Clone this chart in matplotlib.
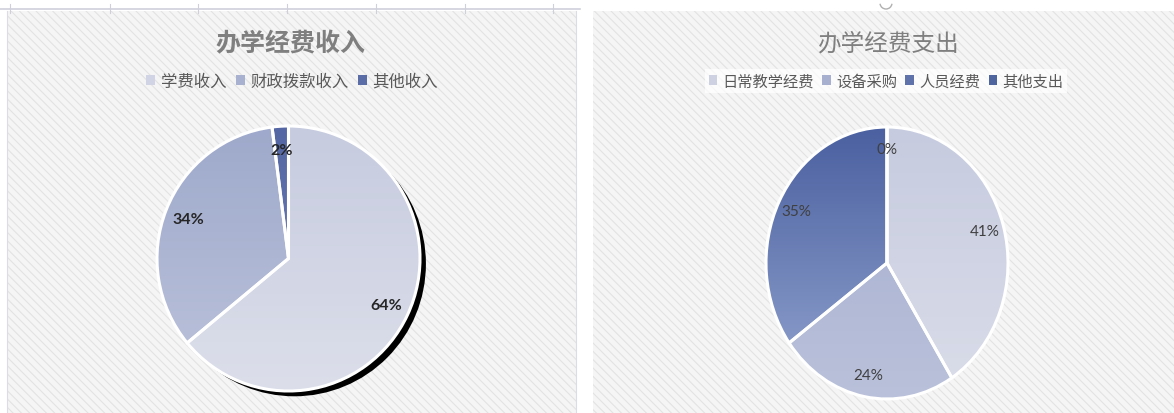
import numpy as np
import matplotlib
matplotlib.use("Agg")
import matplotlib.pyplot as plt
from matplotlib.patches import Rectangle, Circle, Arc
from matplotlib.colors import to_rgb
from matplotlib.lines import Line2D

plt.rcParams['font.family'] = ['Noto Sans CJK SC', 'DejaVu Sans']
plt.rcParams['hatch.linewidth'] = 0.8

# data
income_title = "办学经费收入"
income_labels = ["学费收入", "财政拨款收入", "其他收入"]
income_values = [64, 34, 2]
income_top = ["#c6cbdf", "#9ea9cb", "#5466a3"]
income_bottom = ["#dcdfea", "#bcc3db", "#7586bb"]
income_legend = ["#d0d4e4", "#a8b1cf", "#5a6da6"]

spend_title = "办学经费支出"
spend_labels = ["日常教学经费", "设备采购", "人员经费", "其他支出"]
spend_values = [41, 24, 35, 0]
spend_top = ["#c6cbdf", "#a3add0", "#4a60a0", "#4a60a0"]
spend_bottom = ["#dadde9", "#bac1da", "#94a5d0", "#94a5d0"]
spend_legend = ["#cdd1e2", "#a8b0cf", "#5f72aa", "#4f65a0"]

W, H = 1174, 414
fig = plt.figure(figsize=(W / 100, H / 100), dpi=100)
fig.patch.set_facecolor("white")


def px_rect(x0, y0, x1, y1):
    # pixel box (top-left origin) -> figure fraction
    return [x0 / W, 1 - y1 / H, (x1 - x0) / W, (y1 - y0) / H]


# striped panel backgrounds
for x0, x1 in [(7, 576), (593, 1174)]:
    r = Rectangle((x0 / W, 0), (x1 - x0) / W, 1 - 12 / H, transform=fig.transFigure,
                  facecolor="#f5f5f5", edgecolor="#e3e3e3", hatch="\\\\\\\\",
                  linewidth=0, zorder=0)
    fig.add_artist(r)

# spreadsheet grid remnants above the left panel
fig.add_artist(Line2D([0, 580 / W], [1 - 10 / H, 1 - 10 / H], transform=fig.transFigure,
                      color="#cfd0dc", lw=1.2))
for gx in [10, 110, 198, 287, 376, 465, 553]:
    fig.add_artist(Line2D([gx / W, gx / W], [1 - 5 / H, 1 - 14 / H], transform=fig.transFigure,
                          color="#cfd0dc", lw=0.8))
fig.add_artist(Line2D([7 / W, 7 / W], [0, 1 - 12 / H], transform=fig.transFigure,
                      color="#dcdce4", lw=0.8))
fig.add_artist(Line2D([576 / W, 576 / W], [0, 1 - 12 / H], transform=fig.transFigure,
                      color="#dcdce4", lw=0.8))
fig.add_artist(Arc((886 / W, 1 - 4 / H), 12 / W, 12 / H, theta1=200, theta2=340,
                   transform=fig.transFigure, color="#b0b0b0", lw=1))


def draw_pie(center, rx, ry, values, tops, bottoms, pctdist, shadow, pct_style):
    lim = 1.2
    cx, cy = center
    ax = fig.add_axes(px_rect(cx - rx * lim, cy - ry * lim, cx + rx * lim, cy + ry * lim))
    if shadow:
        ax.add_patch(Circle((0.045, -0.04), 1.0, facecolor="black", edgecolor="none", zorder=1))
    wedges, texts, autotexts = ax.pie(values, startangle=90, counterclock=False,
                                      autopct="%.0f%%", pctdistance=pctdist,
                                      wedgeprops=dict(edgecolor="white", linewidth=2.2),
                                      textprops=pct_style)
    for w, ct, cb in zip(wedges, tops, bottoms):
        grad = np.linspace(np.array(to_rgb(ct)), np.array(to_rgb(cb)), 256)[:, None, :]
        im = ax.imshow(grad, extent=(-1, 1, -1, 1), aspect="auto", zorder=2,
                       interpolation="bilinear")
        im.set_clip_path(w)
        w.set_facecolor("none")
        w.set_zorder(3)
    for t in autotexts:
        t.set_zorder(5)
    ax.set_aspect("auto")
    ax.set_xlim(-lim, lim)
    ax.set_ylim(-lim, lim)
    ax.axis("off")
    return ax


draw_pie((288.5, 259.5), 131.5, 132.5, income_values, income_top, income_bottom, 0.82, True,
         dict(fontsize=11.5, color="#262626", fontweight="bold", family=["Lato", "DejaVu Sans"]))
draw_pie((887, 264), 121, 136, spend_values, spend_top, spend_bottom, 0.84, False,
         dict(fontsize=11, color="#404040", family=["Lato", "DejaVu Sans"]))

# titles
fig.text(290 / W, 1 - 44 / H, income_title, ha="center", va="center", fontsize=18,
         fontweight="bold", color="#7f7f7f")
fig.text(888 / W, 1 - 44 / H, spend_title, ha="center", va="center", fontsize=17,
         color="#7f7f7f")


def add_legend(x, labels, colors, boxed, size):
    handles = [Rectangle((0, 0), 1, 1, facecolor=c, edgecolor="none") for c in colors]
    leg = fig.legend(handles, labels, loc="center", bbox_to_anchor=(x / W, 1 - 82 / H),
                     ncol=len(labels), frameon=boxed, fontsize=size, handlelength=0.55,
                     handleheight=0.55, handletextpad=0.35, columnspacing=0.55,
                     borderpad=0.25, labelcolor="#595959", fancybox=False)
    if boxed:
        leg.get_frame().set_facecolor("white")
        leg.get_frame().set_alpha(0.7)
        leg.get_frame().set_edgecolor("none")
    return leg


add_legend(292, income_labels, income_legend, False, 11.8)
add_legend(886, spend_labels, spend_legend, True, 11)

fig.savefig("out.png", dpi=100)
